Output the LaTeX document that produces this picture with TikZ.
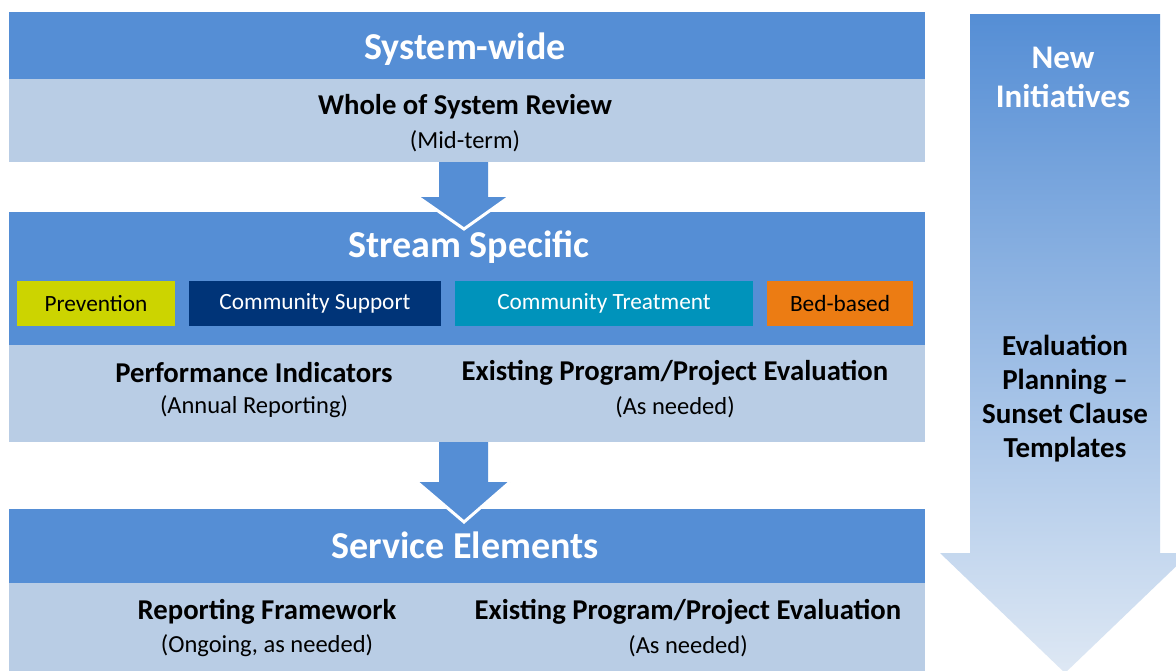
\documentclass[tikz,border=0pt]{standalone}
\usepackage{fontspec}
\setmainfont{Carlito}
\usetikzlibrary{calc}
\definecolor{hdr}{RGB}{85,142,213}
\definecolor{lite}{RGB}{185,205,229}
\definecolor{prev}{RGB}{204,212,0}
\definecolor{csup}{RGB}{0,52,120}
\definecolor{ctrt}{RGB}{0,147,187}
\definecolor{bed}{RGB}{236,124,19}
\definecolor{arrtop}{RGB}{85,142,213}
\definecolor{arrbot}{RGB}{222,232,244}
\begin{document}
\begin{tikzpicture}[x=1pt,y=-1pt,
  band/.style={anchor=north west, inner sep=0pt, outer sep=0pt, minimum width=916pt},
  chip/.style={anchor=north west, inner sep=0pt, outer sep=0pt, minimum height=45pt, font=\fontsize{23.3}{26}\selectfont},
  ttl/.style={font=\fontsize{38}{42}\selectfont\bfseries, text=white},
  hd/.style={font=\fontsize{28.7}{32}\selectfont\bfseries, text=black},
  sb/.style={font=\fontsize{24.5}{28}\selectfont, text=black},
  rt/.style={font=\fontsize{33}{39}\selectfont\bfseries, text=white, align=center},
  rt2/.style={font=\fontsize{29}{34}\selectfont\bfseries, text=black, align=center},
  blk/.style={fill=hdr},
  wedge/.style={draw=white, line width=3pt, line join=miter}
]
\useasboundingbox (0,0) rectangle (1176,670);
\clip (0,0) rectangle (1176,670);
\fill[white] (0,0) rectangle (1176,670);

% right gradient arrow
\shade[top color=arrtop, bottom color=arrbot]
  (970,14) -- (1160,14) -- (1160,553) -- (1190,553) -- (1065,673) -- (940,553) -- (970,553) -- cycle;
\node[rt] (ni) at (1063,77) {New\\Initiatives};
\node[rt2] (ep) at (1065,399) {Evaluation\\Planning --\\Sunset Clause\\Templates};

% level 3
\node[band, fill=hdr, minimum height=75pt] (h3) at (9,509) {};
\node[band, fill=lite, minimum height=90pt] (l3) at (9,583) {};
\node[ttl] (t3) at (465,545) {Service Elements};
\node[hd] (rf) at (267,612) {Reporting Framework};
\node[sb] (rfs) at (267,646) {(Ongoing, as needed)};
\node[hd] (ex3) at (688,612) {Existing Program/Project Evaluation};
\node[sb] (ex3s) at (688,646) {(As needed)};

% arrow 2
\coordinate (a2) at (464,442);
\fill[blk] ($(a2)+(-25,-2)$) -- ($(a2)+(-25,40)$) -- ($(a2)+(-47,40)$) -- ($(a2)+(0,80)$)
  -- ($(a2)+(46,40)$) -- ($(a2)+(24,40)$) -- ($(a2)+(24,-2)$) -- cycle;
\draw[wedge] ($(a2)+(-47,40)$) -- ($(a2)+(0,80)$) -- ($(a2)+(46,40)$);

% level 2
\node[band, fill=hdr, minimum height=134pt] (h2) at (9,212) {};
\node[band, fill=lite, minimum height=97pt] (l2) at (9,345) {};
\node[ttl] (t2) at (469,247) {Stream Specific};
\node[chip, fill=prev, minimum width=158pt, text=black] (c1) at (17,281) {Prevention};
\node[chip, fill=csup, minimum width=252pt, text=white] (c2) at (189,281) {Community Support};
\node[chip, fill=ctrt, minimum width=298pt, text=white] (c3) at (455,281) {Community Treatment};
\node[chip, fill=bed, minimum width=146pt, text=black] (c4) at (767,281) {Bed-based};
\node[hd] (pi) at (254,373) {Performance Indicators};
\node[sb] (pis) at (254,407) {(Annual Reporting)};
\node[hd] (ex2) at (675,373) {Existing Program/Project Evaluation};
\node[sb] (ex2s) at (675,407) {(As needed)};

% arrow 1
\coordinate (a1) at (464,162);
\fill[blk] ($(a1)+(-25,-2)$) -- ($(a1)+(-25,35)$) -- ($(a1)+(-46,35)$) -- ($(a1)+(0,67)$)
  -- ($(a1)+(45,35)$) -- ($(a1)+(24,35)$) -- ($(a1)+(24,-2)$) -- cycle;
\draw[wedge] ($(a1)+(-46,35)$) -- ($(a1)+(0,67)$) -- ($(a1)+(45,35)$);

% level 1
\node[band, fill=hdr, minimum height=67pt] (h1) at (9,12) {};
\node[band, fill=lite, minimum height=83pt] (l1) at (9,79) {};
\node[ttl] (t1) at (465,49) {System-wide};
\node[hd] (wr) at (465,107) {Whole of System Review};
\node[sb] (wrs) at (465,141) {(Mid-term)};
\end{tikzpicture}
\end{document}
